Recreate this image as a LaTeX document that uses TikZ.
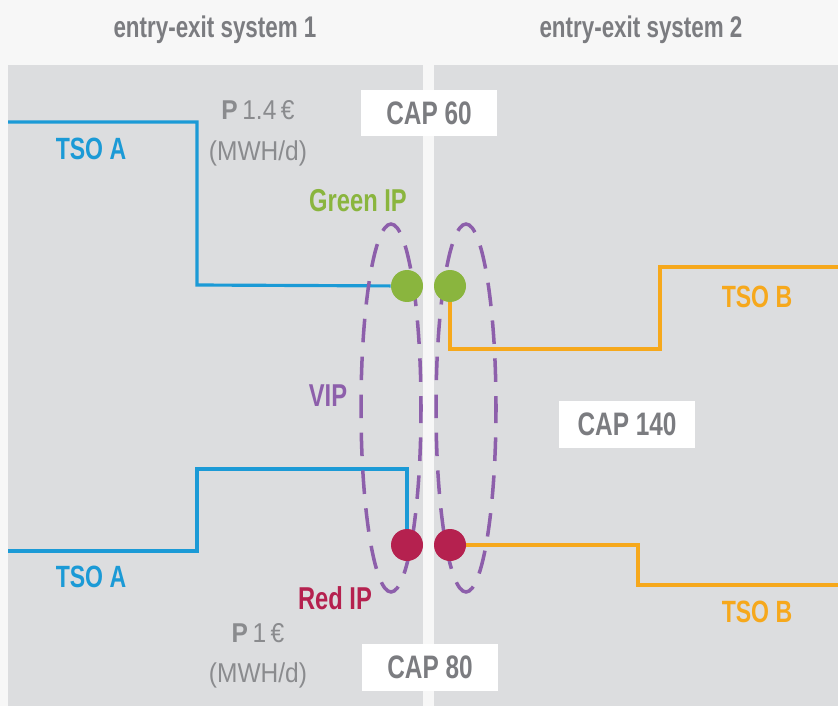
\documentclass[tikz,border=0pt]{standalone}
\usepackage{fontspec}
\setmainfont{Liberation Sans}[FakeStretch=0.75]
\newfontfamily\plainfont{Liberation Sans}[FakeStretch=0.9]
\usepackage{xcolor}
\usetikzlibrary{backgrounds,positioning}
\definecolor{BACK}{HTML}{F7F7F7}
\definecolor{PANEL}{HTML}{DCDDDF}
\definecolor{INK}{HTML}{7B7C80}
\definecolor{SUB}{HTML}{8A8B8E}
\definecolor{TSOA}{HTML}{1B9AD6}
\definecolor{TSOB}{HTML}{F6A81C}
\definecolor{GIP}{HTML}{8AB53E}
\definecolor{RIP}{HTML}{B5214F}
\definecolor{VIPC}{HTML}{8D5FAB}

\begin{document}
\begin{tikzpicture}[
    x=0.02cm, y=-0.02cm,
    head/.style={font=\bfseries\fontsize{17}{19}\selectfont, text=INK},
    tso/.style={font=\bfseries\fontsize{17.5}{20}\selectfont},
    capbox/.style={fill=white, minimum width=2.74cm, minimum height=0.94cm, inner sep=0pt, font=\bfseries\fontsize{18.5}{20}\selectfont, text=INK},
    ip/.style={font=\bfseries\fontsize{18}{20}\selectfont},
    price/.style={font=\plainfont\fontsize{15.5}{18}\selectfont, text=SUB, inner sep=0pt},
    dot/.style={circle, minimum size=0.64cm, inner sep=0pt},
    pipe/.style={line width=1.8pt},
    vip/.style={VIPC, line width=2pt, dash pattern=on 13.4pt off 8.2pt, dash phase=6.7pt},
  ]
  \useasboundingbox (0,0) rectangle (838,706);

  % ===== headings =====
  \node[head] (sys1) at (215,30) {entry-exit system 1};
  \node[head] (sys2) at (641,30) {entry-exit system 2};

  % ===== interconnection points =====
  \node[dot, fill=GIP] (gA) at (407,286) {};
  \node[dot, fill=GIP] (gB) at (450,286) {};
  \node[dot, fill=RIP] (rA) at (407,545) {};
  \node[dot, fill=RIP] (rB) at (450,545) {};

  % corners of the pipes
  \coordinate (a1) at (8,122);
  \coordinate (a1k) at (197,285);
  \coordinate (a2) at (8,551);
  \coordinate (a2k) at (197,469);
  \coordinate (b1k) at (660,349);
  \coordinate (b1) at (838,267);
  \coordinate (b2k) at (638,585);
  \coordinate (b2) at (838,585);

  \begin{scope}[on background layer]
    \fill[BACK] (0,0) rectangle (838,706);
    \fill[PANEL] (8,65) rectangle (423,706);
    \fill[PANEL] (434,65) rectangle (838,706);
    % pipes
    \draw[pipe, TSOA] (a1) -| (a1k) -- (gA);
    \draw[pipe, TSOA] (a2) -| (a2k) -| (rA);
    \draw[pipe, TSOB] (gB) |- (b1k) |- (b1);
    \draw[pipe, TSOB] (rB) -| (b2k) -- (b2);
    % virtual interconnection point
    \draw[vip] (391,408) ellipse [x radius=0.6cm, y radius=3.68cm];
    \draw[vip] (466,408) ellipse [x radius=0.6cm, y radius=3.68cm];
  \end{scope}

  % ===== labels =====
  \node[tso, text=TSOA] (tsoA1) at (91,149) {TSO A};
  \node[tso, text=TSOA] (tsoA2) at (91,577) {TSO A};
  \node[tso, text=TSOB] (tsoB1) at (757,297) {TSO B};
  \node[tso, text=TSOB] (tsoB2) at (757,612) {TSO B};

  \node[ip, text=GIP] (green) at (358,201) {Green IP};
  \node[ip, text=RIP] (red) at (335,598) {Red IP};
  \node[ip, text=VIPC] (vip) at (328,396) {VIP};

  \node[price] (p1) at (258,110) {{\bfseries P}\,1.4\,€};
  \node[price] (u1) at (258,153) {(MWH/d)};
  \node[price] (p2) at (258,633) {{\bfseries P}\,1\,€};
  \node[price] (u2) at (258,675) {(MWH/d)};

  \node[capbox] (cap60) at (429,113) {CAP 60};
  \node[capbox] (cap140) at (627,424) {CAP 140};
  \node[capbox] (cap80) at (430,667) {CAP 80};

\end{tikzpicture}
\end{document}
